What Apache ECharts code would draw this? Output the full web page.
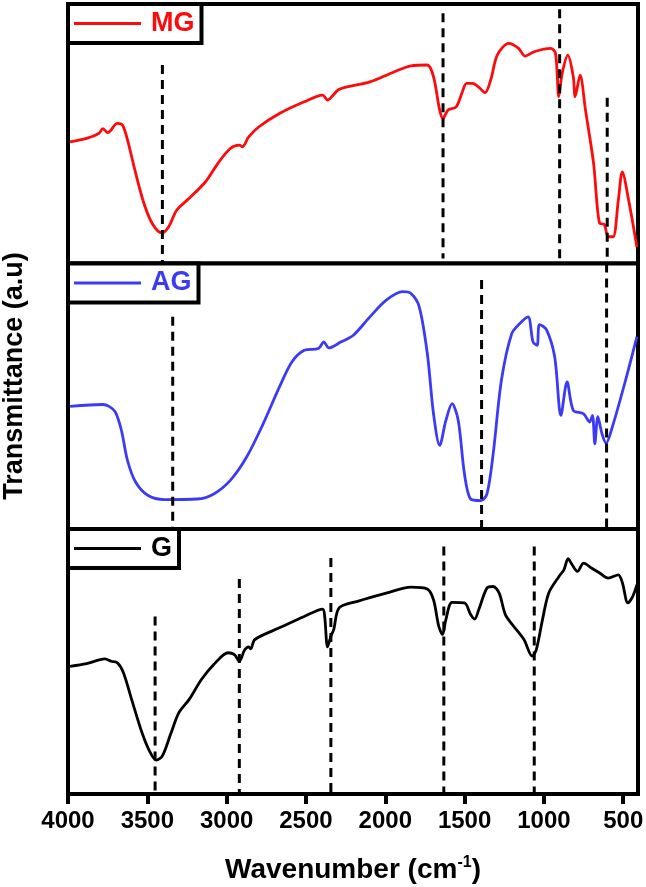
<!DOCTYPE html>
<html>
<head>
<meta charset="utf-8">
<script src="https://cdn.jsdelivr.net/npm/echarts@6/dist/echarts.min.js"></script>
<style>html,body{margin:0;padding:0;background:#fff;}#c{width:646px;height:887px;}</style>
</head>
<body>
<div id="c"></div>
<script>
// Wavenumber (cm-1) and relative transmittance (a.u., 0 = panel bottom, 100 = panel top)
const mgX = [3987,3883,3806,3780,3749,3689,3656,3625,3573,3521,3469,3410,3366,3314,3236,3133,3055,2977,2920,2900,2861,2796,2667,2511,2395,2364,2291,2097,1942,1838,1735,1696,1657,1636,1605,1553,1514,1488,1450,1410,1371,1333,1294,1222,1160,1118,1062,958,927,906,885,849,815,803,772,738,687,648,621,595,564,531,506,466,414];
const mgY = [46.9,48.2,50.1,52,50.4,54,53.3,47.6,34.7,23.1,15.4,11.8,14.1,20.6,25.1,31.5,38.6,44.3,45.6,45,48.8,52.7,57.8,62.3,64.9,63,67.1,70,73.9,76.2,76.5,72,59.1,55.9,59.1,60.4,66.2,69.4,69.4,67.9,65.8,71.3,80.3,84.8,82.9,79.9,81.6,82.9,81,64.3,73.3,80.3,72,64.3,72.6,59.1,38.6,15.4,15.2,10.3,10.3,24.4,35.3,24.4,6.4];

const agX = [3987,3780,3741,3702,3663,3625,3573,3495,3392,3184,3081,2977,2874,2770,2667,2589,2511,2421,2387,2356,2278,2201,2097,1994,1890,1838,1786,1735,1696,1657,1618,1579,1540,1501,1462,1398,1359,1320,1268,1203,1152,1100,1069,1043,1028,984,932,893,854,815,750,712,694,679,660,634,608,569,491,414];
const agY = [46.2,46.9,46.2,44.1,37.1,25.8,17.6,12.6,11.1,11.3,13.2,18.3,27.1,39.6,53.5,62.9,67.3,68,70.5,68.2,70.5,73,79.9,86.2,89.4,88.7,83.7,66.1,43.4,31.5,40.9,47.2,40.9,20.8,11.3,10.7,13.2,28.3,56,73.6,77.4,79.9,70.5,69.2,77,75.1,64.8,42.8,55.4,44.7,43.4,40.3,42.8,32.1,42.3,35.9,32.3,38.4,54.8,72.4];

const gX = [3987,3883,3767,3728,3689,3650,3599,3534,3482,3443,3405,3353,3301,3236,3159,3081,2990,2951,2920,2887,2861,2848,2822,2667,2511,2395,2382,2364,2343,2325,2291,2175,1994,1838,1735,1696,1663,1639,1618,1579,1501,1462,1437,1411,1359,1320,1282,1243,1191,1126,1074,1048,1009,970,905,874,848,822,789,750,698,646,595,531,505,471,440,414];
const gY = [48.2,49.2,51,50.1,49.5,45.7,35.7,23.2,15.7,12.8,14.4,22.6,30.7,35.7,43.2,48.9,53.3,52.6,50.1,54.3,55.5,54.8,58.3,62.7,67,69.8,67,55.5,59.5,62,70.2,72.7,75.8,78.1,77.4,73.3,63.3,60.2,65.8,72.3,72.1,67.7,66,69.5,77.7,78.3,75.8,67.7,63.3,58.3,52,54.5,65.8,75.8,82.1,84.6,88.8,86.5,84,87.1,85.2,83.3,81.5,82.7,79.6,72.1,74.6,79];

// dashed guide lines: [wavenumber, top, bottom] per panel
const mgGuides = [[3405,76.5,0],[1636,96.4,1.9],[901,98,0],[601,63.9,0]];
const agGuides = [[3340,79.9,0],[1393,93.8,0],[605,100,0]];
const gGuides = [[3451,67,1.3],[2920,81.1,0],[2343,89.1,0],[1631,93.4,0],[1061,93.4,0]];

const xTicks = [4000,3500,3000,2500,2000,1500,1000,500];
const names = ['MG','AG','G'];
const colors = ['#ff0a0a','#3b3bf5','#000000'];
const FONT = 'Liberation Sans, Arial, sans-serif';

const zip = (a,b) => a.map((v,i)=>[v,b[i]]);
const grids = [
  {left:68, right:8, top:4, height:259.5},
  {left:68, right:8, top:263.5, height:265.5},
  {left:68, right:8, top:529, height:265}
].map(g => Object.assign(g, {show:true, borderColor:'#000', borderWidth:4, backgroundColor:'#fff',
  containLabel:false, outerBoundsMode:'none'}));

const xAxes = [0,1,2].map(i => ({
  type:'value', gridIndex:i, min:407, max:4000, inverse:true,
  show: i===2,
  axisLine:{show:false},
  splitLine:{show:false},
  axisTick:{show:true, customValues:xTicks, length:10, lineStyle:{width:4,color:'#000'}},
  axisLabel:{customValues:xTicks, margin:15, color:'#000', fontSize:24, fontWeight:'bold', fontFamily:FONT,
    formatter: v => String(v), hideOverlap:false},
  name: i===2 ? '{a|Wavenumber (cm}{s|-1}{a|)}' : '',
  nameLocation:'middle', nameGap:61,
  nameTextStyle:{rich:{
    a:{fontSize:28, fontWeight:'bold', color:'#000', fontFamily:FONT},
    s:{fontSize:16, fontWeight:'bold', color:'#000', fontFamily:FONT, padding:[0,0,14,0]}
  }}
}));
const yAxes = [0,1,2].map(i => ({type:'value', gridIndex:i, min:0, max:100, show:false}));

const spectra = [zip(mgX,mgY), zip(agX,agY), zip(gX,gY)];
const guides = [mgGuides, agGuides, gGuides];
const series = [];
spectra.forEach((d,i) => {
  series.push({name:names[i], type:'line', xAxisIndex:i, yAxisIndex:i, data:d, symbol:'none', smooth:0.3,
    lineStyle:{color:colors[i], width:2.8}, itemStyle:{color:colors[i]}, z:2});
});
guides.forEach((gs,i) => {
  gs.forEach(g => {
    series.push({type:'line', xAxisIndex:i, yAxisIndex:i, data:[[g[0],g[1]],[g[0],g[2]]], symbol:'none', silent:true,
      lineStyle:{color:'#000', width:3, type:[9,6]}, z:3});
  });
});

const legendTops = [4, 263.5, 529];
const legends = names.map((n,i) => ({
  data:[n], left:68, top:legendTops[i], orient:'horizontal',
  backgroundColor:'#fff', borderColor:'#000', borderWidth:4, borderRadius:0,
  padding:[6,7,6,6], icon:'rect', itemWidth:67, itemHeight:3,
  textStyle:{color:colors[i], fontSize:27, fontWeight:'bold', fontFamily:FONT, padding:[0,0,0,5]},
  selectedMode:false, z:10
}));

const chart = echarts.init(document.getElementById('c'), null, {renderer:'canvas'});
chart.setOption({
  animation:false,
  backgroundColor:'#fff',
  grid:grids, xAxis:xAxes, yAxis:yAxes, series:series, legend:legends,
  graphic:[{type:'text', x:15, y:376, rotation:Math.PI/2,
    style:{text:'Transmittance (a.u)', fill:'#000', fontSize:27, fontWeight:'bold', fontFamily:FONT, textAlign:'center', textVerticalAlign:'middle'}}]
});
</script>
</body>
</html>
